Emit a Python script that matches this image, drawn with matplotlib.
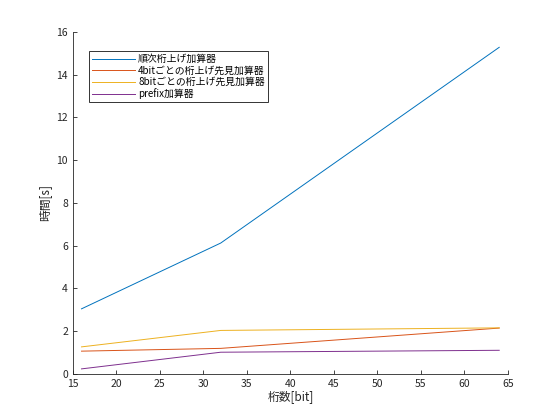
import matplotlib
matplotlib.use("Agg")
import matplotlib.pyplot as plt

plt.rcParams['font.family'] = ['Noto Sans CJK JP', 'DejaVu Sans']

# bit widths and timings
bits = [16, 32, 64]
ripple = [3.04, 6.12, 15.28]
cla4 = [1.06, 1.19, 2.14]
cla8 = [1.26, 2.03, 2.15]
prefix = [0.23, 1.01, 1.1]

labels = ['順次桁上げ加算器', '4bitごとの桁上げ先見加算器',
          '8bitごとの桁上げ先見加算器', 'prefix加算器']
colors = ['#0072BD', '#D95319', '#EDB120', '#7E2F8E']

fig = plt.figure(figsize=(5.6, 4.2), dpi=100)
ax = fig.add_axes([0.13, 0.11, 0.777, 0.814])

for ys, lab, c in zip([ripple, cla4, cla8, prefix], labels, colors):
    ax.plot(bits, ys, color=c, lw=0.7, label=lab)

ax.set_xlim(15, 65)
ax.set_ylim(0, 16)
ax.set_xticks(range(15, 66, 5))
ax.set_yticks(range(0, 17, 2))
ax.tick_params(direction='in', length=3, width=0.6, labelsize=7.5, colors='#262626')
for s in ['top', 'right']:
    ax.spines[s].set_visible(False)
for s in ['left', 'bottom']:
    ax.spines[s].set_linewidth(0.6)
    ax.spines[s].set_color('#262626')

ax.set_xlabel('桁数[bit]', fontsize=8.5, labelpad=1, color='#262626')
ax.set_ylabel('時間[s]', fontsize=8.5, labelpad=4, color='#262626')

leg = ax.legend(loc='upper left', bbox_to_anchor=(0.037, 0.944), fontsize=7.1,
                frameon=True, fancybox=False, edgecolor='black',
                borderpad=0.3, labelspacing=0.15, handlelength=4.4,
                handletextpad=0.3, borderaxespad=0)
leg.get_frame().set_linewidth(0.7)

fig.savefig('out.png', dpi=100)
